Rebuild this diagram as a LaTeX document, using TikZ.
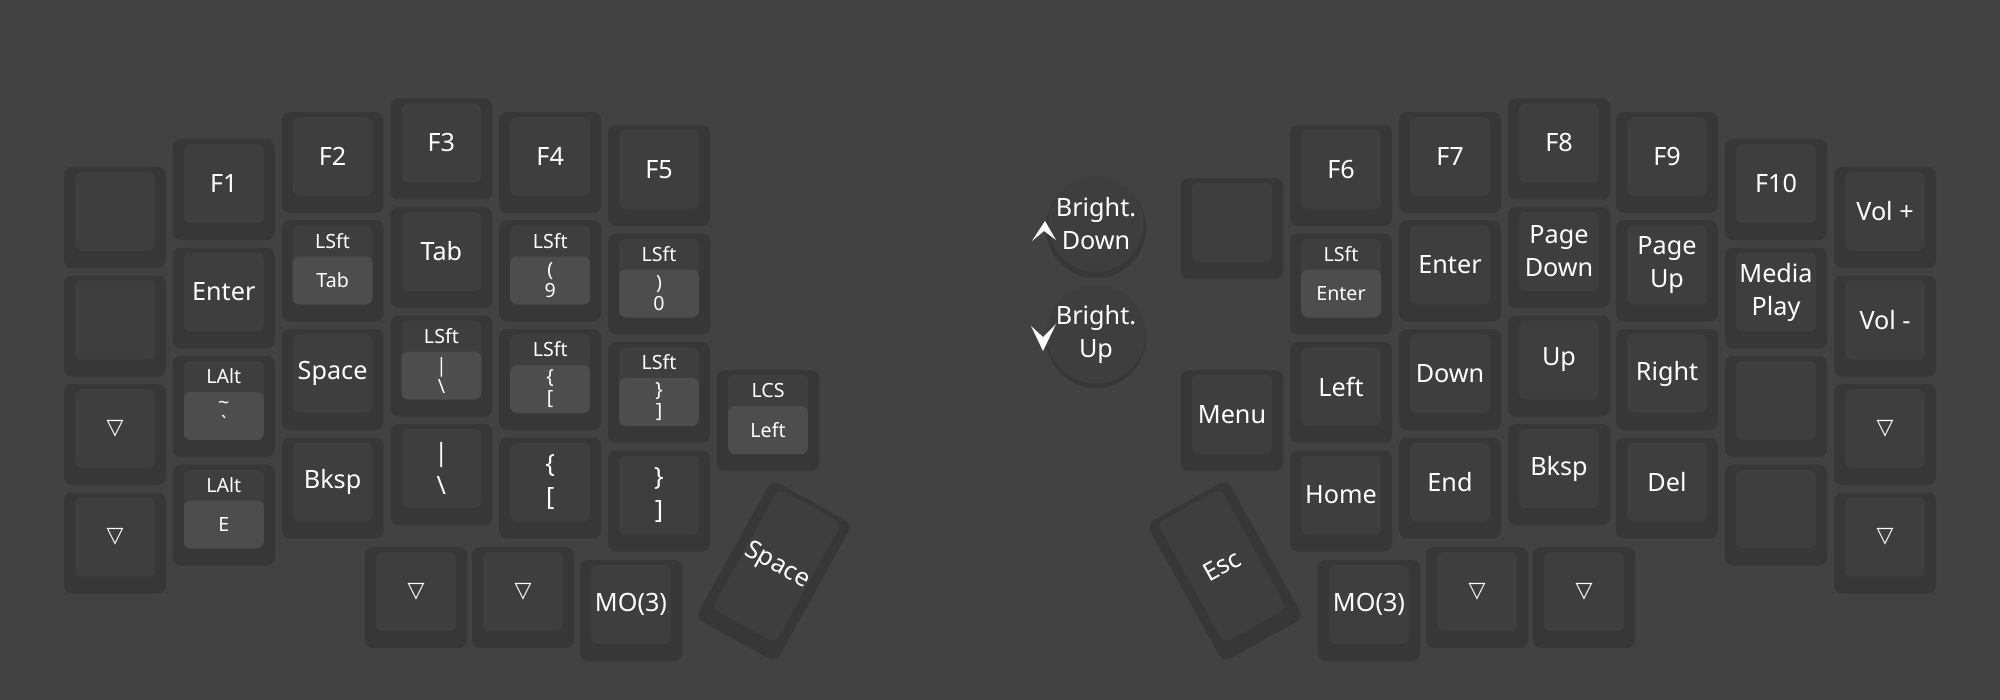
\documentclass[tikz,border=0pt]{standalone}
\usepackage{fontspec}
\setmainfont{Noto Sans}
\newfontfamily\symfont{DejaVu Sans}
\usetikzlibrary{calc}

\definecolor{bgcol}{HTML}{424242}
\definecolor{capcol}{HTML}{373737}
\definecolor{facecol}{HTML}{3E3E3E}
\definecolor{tapcol}{HTML}{4D4D4D}

\newcommand{\mainkey}{\fontsize{12.6}{16.5}\selectfont}
\newcommand{\smallkey}{\fontsize{9.8}{10.5}\selectfont}
\newcommand{\downtri}{{\symfont\fontsize{11}{11}\selectfont ▽}}

% key: name, left x, top y (px), legend
\newcommand{\plainkey}[4]{%
  \node[keycap] at (#2+51, #3+50.5) (#1) {};
  \node[keyface] at ([yshift=3pt]#1.center) (#1-f) {#4};
}
% hold-tap key: name, left x, top y (px), hold, tap
\newcommand{\holdkey}[5]{%
  \node[keycap] at (#2+51, #3+50.5) (#1) {};
  \node[keyface] at ([yshift=3pt]#1.center) (#1-f) {};
  \node[tapbox] at ([yshift=-4.75pt]#1.center) (#1-t) {#5};
  \node[holdtext] at ([yshift=15pt]#1.center) (#1-h) {#4};
}

\begin{document}
\begin{tikzpicture}[x=0.5pt, y=-0.5pt,
    keycap/.style={rectangle, rounded corners=4pt, fill=capcol, inner sep=0pt,
      minimum width=51pt, minimum height=50.5pt},
    keyface/.style={rectangle, rounded corners=3.5pt, fill=facecol, inner sep=0pt,
      minimum width=40pt, minimum height=39.5pt, text=white, font=\mainkey, align=center},
    tapbox/.style={rectangle, rounded corners=3.5pt, fill=tapcol, inner sep=0pt,
      minimum width=40pt, minimum height=24pt, text=white, font=\smallkey, align=center},
    holdtext/.style={inner sep=0pt, text=white, font=\smallkey},
    knobring/.style={circle, fill=capcol, inner sep=0pt, minimum size=50pt},
    knobface/.style={circle, fill=facecol, inner sep=0pt, minimum size=42pt,
      text=white, font=\mainkey, align=center}]
    \fill[bgcol] (0,0) rectangle (2000,700);

    % left half
    \plainkey{l00}{64}{167}{}
    \plainkey{l01}{64}{275.5}{}
    \plainkey{l02}{64}{384}{\downtri}
    \plainkey{l03}{64}{492.5}{\downtri}

    \plainkey{l10}{172.8}{139}{F1}
    \plainkey{l11}{172.8}{247.5}{Enter}
    \holdkey{l12}{172.8}{356}{LAlt}{\textasciitilde\\\textasciigrave}
    \holdkey{l13}{172.8}{464.5}{LAlt}{E}

    \plainkey{l20}{281.6}{112}{F2}
    \holdkey{l21}{281.6}{220.5}{LSft}{Tab}
    \plainkey{l22}{281.6}{329}{Space}
    \plainkey{l23}{281.6}{437.5}{Bksp}

    \plainkey{l30}{390.4}{98.5}{F3}
    \plainkey{l31}{390.4}{207}{Tab}
    \holdkey{l32}{390.4}{315.5}{LSft}{|\\\textbackslash}
    \plainkey{l33}{390.4}{424}{|\\\textbackslash}

    \plainkey{l40}{499.2}{112}{F4}
    \holdkey{l41}{499.2}{220.5}{LSft}{(\\9}
    \holdkey{l42}{499.2}{329}{LSft}{\{\\{[}}
    \plainkey{l43}{499.2}{437.5}{\{\\{[}}

    \plainkey{l50}{608}{125}{F5}
    \holdkey{l51}{608}{233.5}{LSft}{)\\0}
    \holdkey{l52}{608}{342}{LSft}{\}\\{]}}
    \plainkey{l53}{608}{450.5}{\}\\{]}}

    \holdkey{l60}{717}{370}{LCS}{Left}

    \plainkey{lt0}{365}{547}{\downtri}
    \plainkey{lt1}{472}{547}{\downtri}
    \plainkey{lt2}{580}{560}{MO(3)}

    \node[keycap, minimum width=46pt, minimum height=79pt, rotate=-29] at (774, 571) (lsp) {};
    \node[keyface, minimum width=36pt, minimum height=68.5pt, rotate=-29]
      at ($(lsp.center)!3pt!(lsp.north)$) (lsp-f) {Space};

    % encoders
    \node[knobring] at (1096, 228) (kn1) {};
    \node[knobface] at ([yshift=2pt]kn1.center) (kn1-f) {Bright.\\Down};
    \node[knobring] at (1096, 338) (kn2) {};
    \node[knobface] at ([yshift=2pt]kn2.center) (kn2-f) {Bright.\\Up};
    \fill[white] (1045,221) -- (1056,240) -- (1044,231) -- (1032,241) -- cycle;
    \fill[white] (1031,326) -- (1043,337) -- (1056,324) -- (1043,351) -- cycle;

    % right half
    \plainkey{r00}{1181}{178}{}
    \plainkey{r01}{1181}{370}{Menu}

    \plainkey{r10}{1290}{125}{F6}
    \holdkey{r11}{1290}{233.5}{LSft}{Enter}
    \plainkey{r12}{1290}{342}{Left}
    \plainkey{r13}{1290}{450.5}{Home}

    \plainkey{r20}{1399}{112}{F7}
    \plainkey{r21}{1399}{220.5}{Enter}
    \plainkey{r22}{1399}{329}{Down}
    \plainkey{r23}{1399}{437.5}{End}

    \plainkey{r30}{1508}{98.5}{F8}
    \plainkey{r31}{1508}{207}{Page\\Down}
    \plainkey{r32}{1508}{315.5}{Up}
    \plainkey{r33}{1508}{424}{Bksp}

    \plainkey{r40}{1616}{112}{F9}
    \plainkey{r41}{1616}{220.5}{Page\\Up}
    \plainkey{r42}{1616}{329}{Right}
    \plainkey{r43}{1616}{437.5}{Del}

    \plainkey{r50}{1725}{139}{F10}
    \plainkey{r51}{1725}{247.5}{Media\\Play}
    \plainkey{r52}{1725}{356}{}
    \plainkey{r53}{1725}{464.5}{}

    \plainkey{r60}{1834}{167}{Vol +}
    \plainkey{r61}{1834}{275.5}{Vol -}
    \plainkey{r62}{1834}{384}{\downtri}
    \plainkey{r63}{1834}{492.5}{\downtri}

    \plainkey{rt0}{1318}{560}{MO(3)}
    \plainkey{rt1}{1426}{547}{\downtri}
    \plainkey{rt2}{1533}{547}{\downtri}

    \node[keycap, minimum width=46pt, minimum height=79pt, rotate=29] at (1225, 571) (resc) {};
    \node[keyface, minimum width=36pt, minimum height=68.5pt, rotate=29]
      at ($(resc.center)!3pt!(resc.north)$) (resc-f) {Esc};
\end{tikzpicture}
\end{document}
